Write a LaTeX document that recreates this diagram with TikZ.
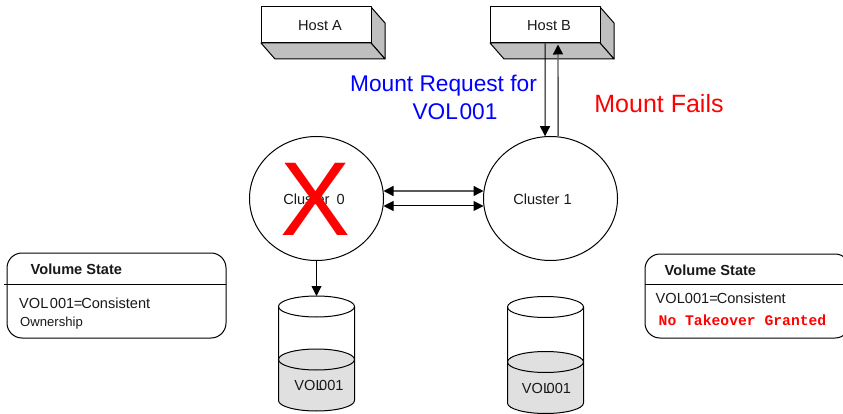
\documentclass[tikz,border=0pt]{standalone}
\usepackage{fontspec}
\setmainfont{Liberation Sans}
\newfontfamily\cour{Liberation Mono}
\usetikzlibrary{shapes.geometric,arrows.meta,calc}
\newcommand{\fs}[1]{\fontsize{#1pt}{#1pt}\selectfont}
\tikzset{
  x=1pt,y=-1pt,
  line/.style={draw=black,line width=1pt},
  hostfront/.style={line,fill=white,minimum width=110pt,minimum height=36pt,inner sep=0pt,line join=round},
  hostside/.style={line,fill=black!25,line join=round},
  cluster/.style={line,ellipse,minimum width=134pt,minimum height=124pt,inner sep=0pt},
  txt/.style={inner sep=0pt,text=black!90},
  small/.style={txt,font=\fs{14.6}},
  tip/.style={Triangle[length=10pt,width=10pt,color=black]},
  link/.style={line,{Triangle[length=10pt,width=10pt,color=black]}-{Triangle[length=10pt,width=10pt,color=black]}},
  arrow/.style={line,-{Triangle[length=10pt,width=10pt,color=black]}},
  soft/.style={draw=black!65,line width=1.4pt},
  state/.style={line,rounded corners=15pt},
  cylfill/.style={fill=black!12}
}
\begin{document}
\begin{tikzpicture}
\useasboundingbox (0,0) rectangle (843,414);
\clip (0,0) rectangle (843,414);
\fill[white] (0,0) rectangle (843,414);

% hosts
\foreach \n/\cx in {hostA/316,hostB/545}{
  \path[hostside] (\cx+55,7) -- (\cx+69,23) -- (\cx+69,59) -- (\cx+55,43) -- cycle;
  \path[hostside] (\cx-55,43) -- (\cx-41,59) -- (\cx+69,59) -- (\cx+55,43) -- cycle;
  \node[hostfront] (\n) at (\cx,25) {};
}
\node[small] (hostAlabel) at (320,26) {Host A};
\node[small] (hostBlabel) at (549,26) {Host B};

% clusters
\node[cluster] (c0) at (316.5,198.5) {};
\node[cluster] (c1) at (550.5,198.5) {};
\node[small] (c0label) at (314,199) {Cluster\hspace{3pt} 0};
\node[small] (c1label) at (542.5,199) {Cluster 1};
\node[inner sep=0pt,text=red,font=\fs{105}] (cross) at (316,199.5) {X};

% links
\draw[link,soft] ($(c0.east)+(-0.5,-7.5)$) -- ($(c1.west)+(0.5,-7.5)$);
\draw[link] ($(c0.east)+(-0.5,7.5)$) -- ($(c1.west)+(0.5,7.5)$);
\draw[arrow] (hostB.south) -- (c1.95);
\draw[arrow,soft] (c1.83) -- ($(hostB.south)+(13,1)$);

% labels
\node[inner sep=0pt,text=blue,font=\fs{22.7}] (req1) at (443.5,86) {Mount Request for};
\node[inner sep=0pt,text=blue,font=\fs{22.7}] (req2) at (455,111.5) {VOL\kern1.5pt 001};
\node[inner sep=0pt,text=red,font=\fs{25}] (fails) at (659,103.5) {Mount Fails};

% cylinders
\foreach \n/\cx/\ty/\my/\by in {cylA/316.5/306.5/359.5/400.5,cylB/545.5/307/362/403}{
  \path[cylfill] (\cx-38,\my) -- (\cx-38,\by) arc[start angle=180,end angle=360,x radius=38,y radius=-10.5] -- (\cx+38,\my) arc[start angle=0,end angle=180,x radius=38,y radius=-10.5] -- cycle;
  \draw[line] (\cx-38,\ty) -- (\cx-38,\by) arc[start angle=180,end angle=360,x radius=38,y radius=-10.5] -- (\cx+38,\ty);
  \draw[line] (\cx,\ty) ellipse[x radius=38,y radius=10.5];
  \draw[line] (\cx,\my) ellipse[x radius=38,y radius=10.5];
  \coordinate (\n) at (\cx,\ty-10.5);
}
\node[small] (vA) at (319,385.5) {VOL\kern-4.5pt 001};
\node[small] (vB) at (546.5,388) {VOL\kern-4.5pt 001};
\draw[arrow] (c0.south) -- (cylA);

% state boxes
\draw[state] (7,253) rectangle (226,338);
\draw[line] (4,284) -- (226,284);
\node[txt,font=\bfseries\fs{14.6},anchor=west] (s1) at (30.5,269) {Volume State};
\node[small,anchor=west] (s1a) at (19,303) {VOL\kern1.5pt 001\kern-.5pt=\kern-1pt Consistent};
\node[txt,font=\fs{13.1},anchor=west] (s1b) at (20,323.5) {Ownership};

\draw[state] (645,254) rectangle (850,338);
\draw[line] (645,284) -- (843,284);
\node[txt,font=\bfseries\fs{14.6},anchor=west] (s2) at (664.5,270) {Volume State};
\node[small,anchor=west] (s2a) at (655.5,298.5) {VOL001=\kern-1pt Consistent};
\node[inner sep=0pt,text=red,font=\cour\bfseries\fs{14.7},anchor=west] (s2b) at (658.5,320.5) {No Takeover Granted};
\end{tikzpicture}
\end{document}
